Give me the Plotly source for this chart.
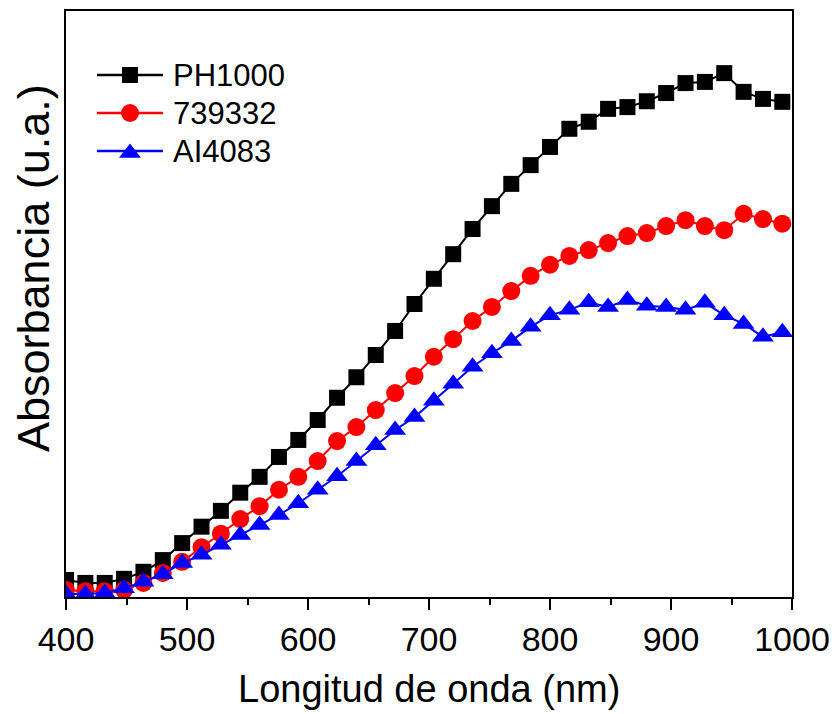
import plotly.graph_objects as go

wavelength = [400, 416, 432, 448, 464, 480, 496, 512, 528, 544, 560, 576, 592, 608,
              624, 640, 656, 672, 688, 704, 720, 736, 752, 768, 784, 800, 816, 832,
              848, 864, 880, 896, 912, 928, 944, 960, 976, 992]

ph1000 = [2.9, 2.4, 2.4, 3.1, 4.3, 6.3, 9.2, 12.0, 14.7, 17.8, 20.5, 23.9, 26.8, 30.2,
          34.0, 37.5, 41.3, 45.4, 50.0, 54.3, 58.5, 62.8, 66.7, 70.5, 73.7, 76.8, 79.9, 81.1,
          83.3, 83.6, 84.6, 86.0, 87.7, 87.9, 89.4, 86.2, 85.0, 84.5]

s739332 = [1.2, 1.0, 1.0, 1.2, 2.4, 4.1, 6.0, 8.5, 10.8, 13.3, 15.5, 18.3, 20.5, 23.2,
           26.6, 29.0, 31.9, 34.8, 37.7, 41.0, 44.0, 47.1, 49.5, 52.2, 54.8, 56.7, 58.2, 59.2,
           60.4, 61.6, 62.1, 63.3, 64.3, 63.3, 62.6, 65.4, 64.5, 63.7]

ai4083 = [0.5, 0.5, 0.7, 1.5, 2.6, 3.9, 5.8, 7.2, 8.9, 10.6, 12.3, 14.0, 16.0, 18.3,
          20.6, 23.2, 25.9, 28.5, 30.7, 33.5, 36.4, 39.3, 41.6, 43.7, 46.1, 48.1, 49.0, 50.3,
          49.5, 50.7, 49.7, 49.5, 49.0, 50.2, 48.1, 46.6, 44.4, 45.2]

names = ["PH1000", "739332", "AI4083"]
colors = ["#000000", "#ff0000", "#0000ff"]
symbols = ["square", "circle", "triangle-up"]
sizes = [16, 18, 19]
series = [ph1000, s739332, ai4083]

# page body has an 8px margin; compensate so the picture lines up
OFF = 8
W, H = 838 - OFF, 714 - OFF
# plot area in (screen) pixels
L, R, T, B = 66, 792, 11, 597

fig = go.Figure()
for name, col, sym, sz, ys in zip(names, colors, symbols, sizes, series):
    fig.add_trace(go.Scatter(
        x=wavelength, y=ys, name=name, mode="lines+markers",
        line=dict(color=col, width=2),
        marker=dict(symbol=sym, size=sz, color=col, line=dict(width=0)),
        showlegend=False,
    ))

# custom legend (pixel-based overlay axes)
leg_rows = [75, 113, 151]
for name, col, sym, sz, ry in zip(names, colors, symbols, sizes, leg_rows):
    fig.add_trace(go.Scatter(
        x=[97, 130, 163], y=[ry, ry, ry], mode="lines",
        line=dict(color=col, width=2.5), xaxis="x2", yaxis="y2",
        showlegend=False, hoverinfo="skip"))
    fig.add_trace(go.Scatter(
        x=[130], y=[ry + (2 if sym == "triangle-up" else 0)], mode="markers",
        marker=dict(symbol=sym, size=sz, color=col, line=dict(width=0)),
        xaxis="x2", yaxis="y2", showlegend=False, hoverinfo="skip"))
    fig.add_annotation(x=171, y=ry, xref="x2", yref="y2", text=name,
                       showarrow=False, xanchor="left", yanchor="middle",
                       font=dict(size=31, color="black"))

font = "Liberation Sans, Arial, sans-serif"
fig.update_layout(
    width=W, height=H,
    margin=dict(l=L - OFF, r=838 - R, t=T - OFF, b=714 - B),
    paper_bgcolor="white", plot_bgcolor="white",
    font=dict(family=font, color="black"),
    showlegend=False,
    xaxis=dict(range=[400, 1000], tickvals=[400, 500, 600, 700, 800, 900, 1000],
               ticks="outside", ticklen=11, tickwidth=2, tickcolor="black",
               minor=dict(dtick=50, tick0=0, ticks="outside", ticklen=6, tickwidth=2, tickcolor="black"),
               showline=True, linecolor="black", linewidth=2, mirror=True,
               showgrid=False, zeroline=False, automargin=False,
               tickfont=dict(size=34)),
    yaxis=dict(range=[0, 100], showticklabels=False, ticks="",
               showline=True, linecolor="black", linewidth=2, mirror=True,
               showgrid=False, zeroline=False, automargin=False),
    xaxis2=dict(range=[L, R], overlaying="x", visible=False, fixedrange=True),
    yaxis2=dict(range=[B, T], overlaying="y", visible=False, fixedrange=True),
)

# axis titles
fig.add_annotation(x=0.5, y=(B - 689) / (B - T), xref="paper", yref="paper",
                   text="Longitud de onda (nm)", showarrow=False,
                   xanchor="center", yanchor="middle", font=dict(size=38))
fig.add_annotation(x=(33 - L) / (R - L), y=(B - 268) / (B - T), xref="paper", yref="paper",
                   text="Absorbancia (u.a.)", showarrow=False, textangle=-90,
                   xanchor="center", yanchor="middle", font=dict(size=45))

fig.write_html("out.html")
